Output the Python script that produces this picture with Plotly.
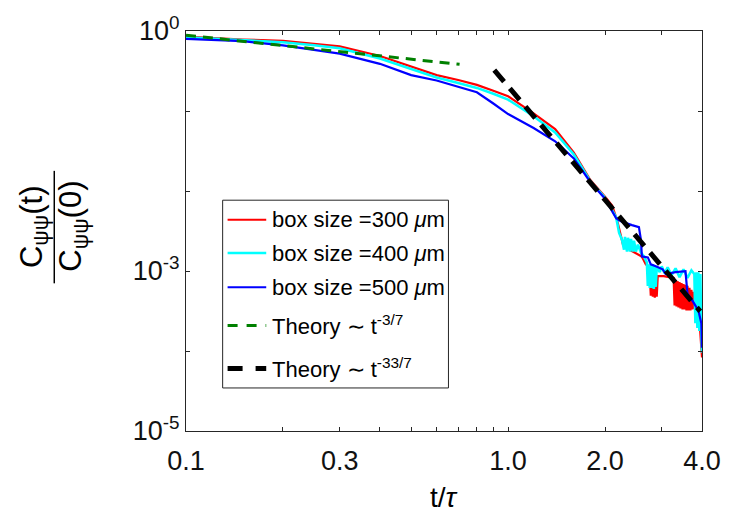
import plotly.graph_objects as go

# ---------------- data ----------------
t_red = [0.1, 0.12, 0.15, 0.2, 0.25, 0.3, 0.4, 0.5, 0.6, 0.7, 0.8, 0.9, 1.0, 1.2, 1.4, 1.6, 1.8, 2.0,
         2.104, 2.18, 2.275, 2.407, 2.6, 2.64, 2.677, 2.716, 2.754, 2.774, 2.794, 2.814, 2.834, 2.854,
         2.874, 2.894, 2.915, 3.042, 3.196, 3.265, 3.288, 3.311, 3.335, 3.359, 3.382, 3.406, 3.430,
         3.455, 3.479, 3.504, 3.529, 3.554, 3.579, 3.605, 3.631, 3.657, 3.683, 3.709, 3.735, 3.762,
         3.788, 3.815, 3.897, 3.925, 3.953, 3.981, 4.0]
C_red = [0.852, 0.821, 0.782, 0.754, 0.693, 0.642, 0.487, 0.362, 0.281, 0.244, 0.212, 0.179, 0.153,
         0.0935, 0.0595, 0.0302, 0.0137, 0.0085,
         6.59e-3, 4.31e-3, 2.13e-3, 1.80e-3, 1.52e-3, 1.356e-3, 1.21e-3, 1.145e-3, 9.14e-4, 4.91e-4,
         7.09e-4, 4.78e-4, 6.89e-4, 4.64e-4, 6.70e-4, 4.78e-4, 8.64e-4, 8.64e-4, 8.39e-4, 8.17e-4,
         3.71e-4, 7.71e-4, 3.60e-4, 7.50e-4, 3.50e-4, 7.29e-4, 3.40e-4,
         7.09e-4, 3.31e-4, 6.89e-4, 3.31e-4, 6.70e-4, 3.22e-4, 6.51e-4, 3.22e-4, 6.15e-4, 3.22e-4,
         5.82e-4, 3.31e-4, 5.50e-4, 3.40e-4, 3.92e-4, 3.92e-4, 2.23e-4, 1.68e-4, 1.10e-4, 8.3e-5]

t_cyan = [0.1, 0.12, 0.15, 0.2, 0.25, 0.3, 0.4, 0.5, 0.6, 0.7, 0.8, 0.9, 1.0, 1.2, 1.4, 1.6, 1.8, 2.0,
          2.165, 2.212, 2.259, 2.291, 2.307, 2.340, 2.357, 2.391, 2.407, 2.442, 2.459, 2.494, 2.530,
          2.585, 2.640, 2.697, 2.716, 2.735, 2.754, 2.774, 2.794, 2.814, 2.834, 2.854, 2.874, 2.894,
          2.957, 2.999, 3.063, 3.129, 3.219, 3.311, 3.406, 3.504, 3.605, 3.709, 3.788, 3.815, 3.842,
          3.870, 3.897, 3.925, 3.953, 3.981, 4.0]
C_cyan = [0.832, 0.798, 0.765, 0.723, 0.664, 0.61, 0.454, 0.333, 0.262, 0.224, 0.1946, 0.1643, 0.1387,
          0.0859, 0.054, 0.0286, 0.0133, 0.00825,
          4.69e-3, 2.99e-3, 2.45e-3, 1.85e-3, 2.67e-3, 1.75e-3, 2.60e-3, 1.75e-3, 2.52e-3, 1.75e-3,
          2.39e-3, 1.75e-3, 2.13e-3, 1.70e-3, 1.52e-3, 1.28e-3, 6.51e-4, 1.21e-3, 6.15e-4, 1.21e-3,
          6.15e-4, 1.21e-3, 5.98e-4, 1.18e-3, 6.33e-4, 1.145e-3, 9.67e-4, 1.145e-3, 9.40e-4, 1.11e-3,
          8.88e-4, 1.08e-3, 8.39e-4, 1.05e-3, 8.17e-4, 1.02e-3, 9.14e-4, 2.23e-4, 9.67e-4, 1.94e-4,
          9.67e-4, 1.78e-4, 9.14e-4, 1.68e-4, 9.55e-5]

t_blue = [0.1, 0.12, 0.15, 0.2, 0.25, 0.3, 0.4, 0.5, 0.6, 0.7, 0.8, 0.9, 1.0, 1.2, 1.4, 1.6, 1.8, 2.0,
          2.165, 2.212, 2.275, 2.425, 2.548, 2.585, 2.603, 2.716, 2.774, 2.874, 3.020, 3.085, 3.311,
          3.554, 3.605, 3.735, 3.897, 3.981, 4.0]
C_blue = [0.798, 0.776, 0.747, 0.66, 0.585, 0.522, 0.3886, 0.281, 0.2405, 0.200, 0.1715, 0.124, 0.0916,
          0.0612, 0.0418, 0.0255, 0.01297, 0.00802,
          4.56e-3, 4.31e-3, 4.08e-3, 3.75e-3, 3.54e-3, 2.45e-3, 1.52e-3, 1.48e-3, 1.21e-3, 1.145e-3,
          1.05e-3, 9.14e-4, 9.67e-4, 9.94e-4, 5.20e-4, 4.27e-4, 3.22e-4, 2.23e-4, 1.10e-4]

# theory lines (straight in log-log): end points
t_th1 = [0.1, 0.707]
C_th1 = [0.885, 0.383]
t_th2 = [0.906, 3.95]
C_th2 = [0.3236, 3.13e-4]

series_names = ["box size =300 <i>μ</i>m", "box size =400 <i>μ</i>m", "box size =500 <i>μ</i>m",
                "Theory ∼ t<sup>-3/7</sup>", "Theory ∼ t<sup>-33/7</sup>"]

x_tickvals = [0.1, 0.2, 0.3, 0.4, 0.5, 0.6, 0.7, 0.8, 0.9, 1.0, 2.0, 3.0, 4.0]
x_ticktext = ["0.1", "", "0.3", "", "", "", "", "", "", "1.0", "2.0", "", "4.0"]
y_tickvals = [1, 1e-1, 1e-2, 1e-3, 1e-4, 1e-5]
y_ticktext = ["10<sup>0</sup>", "", "", "10<sup>-3</sup>", "", "10<sup>-5</sup>"]

# ---------------- figure ----------------
W, H = 733, 519
L, R, T, B = 186, 707, 22, 431
FONT = "Liberation Sans, Arial, sans-serif"


def px(x):
    return (x - L) / (R - L)


def py(y):
    return (B - y) / (B - T)


fig = go.Figure()
fig.add_trace(go.Scatter(x=t_red, y=C_red, mode="lines", line=dict(color="#ff0000", width=2.2)))
fig.add_trace(go.Scatter(x=t_cyan, y=C_cyan, mode="lines", line=dict(color="#00ffff", width=2.6)))
fig.add_trace(go.Scatter(x=t_blue, y=C_blue, mode="lines", line=dict(color="#0000ff", width=2.2)))
fig.add_trace(go.Scatter(x=t_th1, y=C_th1, mode="lines",
                         line=dict(color="#008000", width=3, dash="10px,7px")))
fig.add_trace(go.Scatter(x=t_th2, y=C_th2, mode="lines",
                         line=dict(color="#000000", width=5, dash="15px,9px")))

axis_common = dict(showgrid=False, zeroline=False, showline=True, linecolor="#262626", linewidth=1,
                   mirror="ticks", ticks="inside", ticklen=4, tickcolor="#262626",
                   tickfont=dict(family=FONT, size=27, color="#111111"))

fig.update_xaxes(type="log", range=[-1, 0.60206], tickvals=x_tickvals, ticktext=x_ticktext,
                 ticklabelstandoff=6, **axis_common)
fig.update_yaxes(type="log", range=[-5, 0], tickvals=y_tickvals, ticktext=y_ticktext, **axis_common)

shapes = []
annotations = []

# legend box
shapes.append(dict(type="rect", xref="paper", yref="paper", x0=px(223), x1=px(451), y0=py(195), y1=py(387),
                   line=dict(color="#262626", width=1), fillcolor="white", layer="above"))
legend_rows = [215, 249, 284, 323, 367]
legend_styles = [dict(color="#ff0000", width=2.2), dict(color="#00ffff", width=2.6),
                 dict(color="#0000ff", width=2.2), dict(color="#008000", width=3, dash="10px,9px"),
                 dict(color="#000000", width=5, dash="15px,13px")]
for rowy, style, name in zip(legend_rows, legend_styles, series_names):
    shapes.append(dict(type="line", xref="paper", yref="paper", x0=px(228), x1=px(267), y0=py(rowy),
                       y1=py(rowy), line=style, layer="above"))
    annotations.append(dict(xref="paper", yref="paper", x=px(271), y=py(rowy), text=name, showarrow=False,
                            xanchor="left", yanchor="middle", font=dict(family=FONT, size=22, color="black")))

# y-axis title as a fraction
annotations.append(dict(xref="paper", yref="paper", x=px(32), y=py(222), text="C<sub>ψψ</sub>(t)",
                        textangle=-90, showarrow=False, xanchor="center", yanchor="middle",
                        font=dict(family=FONT, size=31, color="black")))
annotations.append(dict(xref="paper", yref="paper", x=px(72), y=py(222), text="C<sub>ψψ</sub>(0)",
                        textangle=-90, showarrow=False, xanchor="center", yanchor="middle",
                        font=dict(family=FONT, size=31, color="black")))
shapes.append(dict(type="line", xref="paper", yref="paper", x0=px(53), x1=px(53), y0=py(165), y1=py(280),
                   line=dict(color="black", width=1.5)))

# x-axis title
annotations.append(dict(xref="paper", yref="paper", x=px(446), y=py(499), text="t/<i>τ</i>",
                        showarrow=False, xanchor="center", yanchor="middle",
                        font=dict(family=FONT, size=28, color="black")))

fig.update_layout(width=W, height=H, margin=dict(l=L, r=W - R, t=T, b=H - B),
                  paper_bgcolor="white", plot_bgcolor="white", showlegend=False,
                  shapes=shapes, annotations=annotations)

fig.write_html("out.html")
